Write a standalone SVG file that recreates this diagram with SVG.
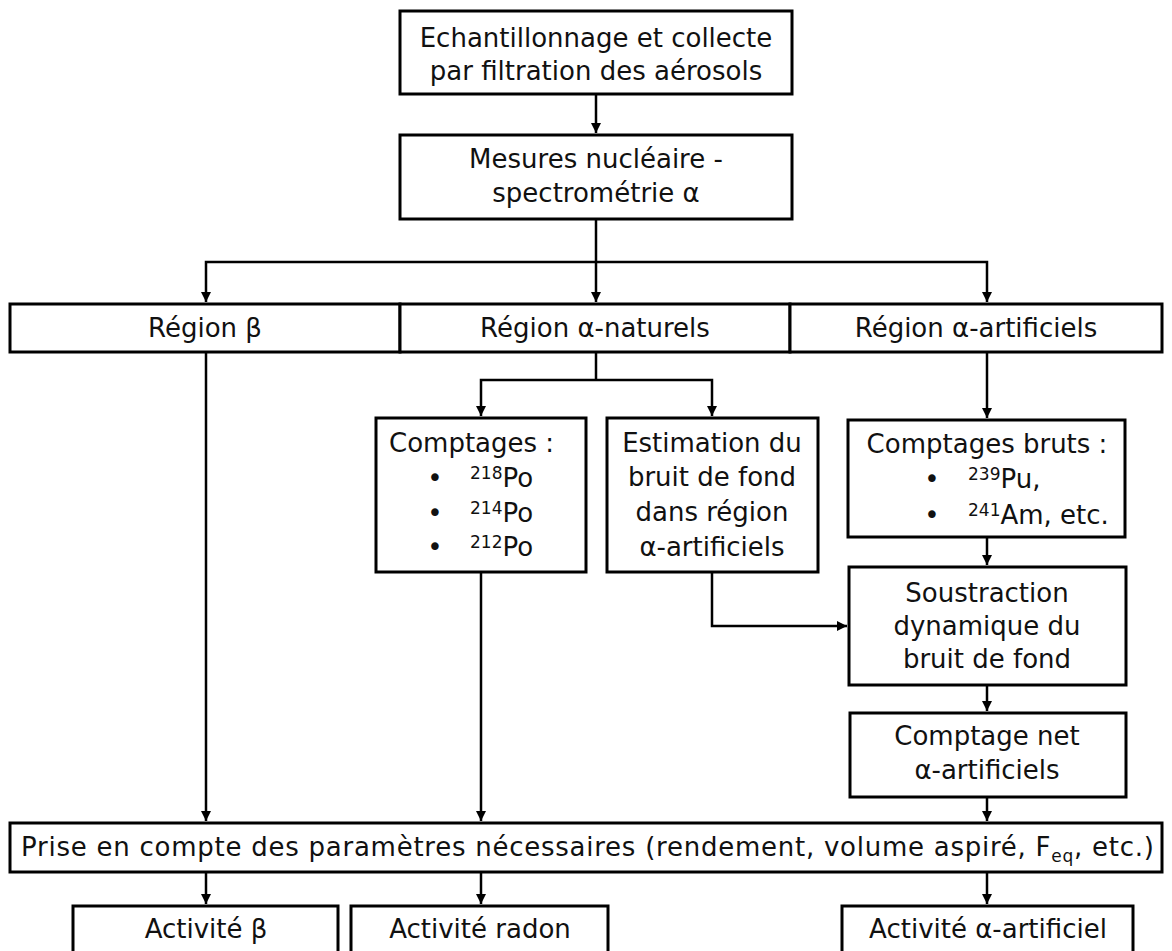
<svg xmlns="http://www.w3.org/2000/svg" width="1172" height="951" viewBox="0 0 1172 951">
<style>
.box{fill:#fff;stroke:#000;stroke-width:3}
.t{font-family:"DejaVu Sans",sans-serif;font-size:26px;fill:#111}
.c{text-anchor:middle}
.sup{font-size:17px}
.con path{fill:none;stroke:#000;stroke-width:2.5}
</style>
<defs>
<marker id="ah" markerUnits="userSpaceOnUse" markerWidth="11" markerHeight="11" refX="10" refY="5" orient="auto">
<path d="M0,0 L10,5 L0,10 z" fill="#000"/>
</marker>
</defs>
<rect width="1172" height="951" fill="#fff"/>
<g class="con">
<path d="M596,94 V133" marker-end="url(#ah)"/>
<path d="M596,219 V302" marker-end="url(#ah)"/>
<path d="M596,262 H206 V302" marker-end="url(#ah)"/>
<path d="M596,262 H987 V302" marker-end="url(#ah)"/>
<path d="M206,352 V821" marker-end="url(#ah)"/>
<path d="M596,352 V380"/>
<path d="M596,380 H481 V416" marker-end="url(#ah)"/>
<path d="M596,380 H712 V416" marker-end="url(#ah)"/>
<path d="M481,572 V821" marker-end="url(#ah)"/>
<path d="M712,572 V626 H847" marker-end="url(#ah)"/>
<path d="M987,352 V418" marker-end="url(#ah)"/>
<path d="M987,537 V565" marker-end="url(#ah)"/>
<path d="M987,685 V711" marker-end="url(#ah)"/>
<path d="M987,797 V821" marker-end="url(#ah)"/>
<path d="M206,872 V904" marker-end="url(#ah)"/>
<path d="M481,872 V904" marker-end="url(#ah)"/>
<path d="M987,872 V904" marker-end="url(#ah)"/>
</g>
<g id="n-echantillonnage">
<rect class="box" x="400" y="11" width="392" height="83"/>
<text class="t c" x="596" y="47">Echantillonnage et collecte</text>
<text class="t c" x="596" y="80">par filtration des aérosols</text>
</g>
<g id="n-mesures">
<rect class="box" x="400" y="135" width="392" height="84"/>
<text class="t c" x="596" y="168">Mesures nucléaire -</text>
<text class="t c" x="596" y="202">spectrométrie α</text>
</g>
<g id="n-region-beta">
<rect class="box" x="10" y="304" width="390" height="48"/>
<text class="t c" x="205" y="337">Région β</text>
</g>
<g id="n-region-naturels">
<rect class="box" x="400" y="304" width="390" height="48"/>
<text class="t c" x="595" y="337">Région α-naturels</text>
</g>
<g id="n-region-artificiels">
<rect class="box" x="790" y="304" width="372" height="48"/>
<text class="t c" x="976" y="337">Région α-artificiels</text>
</g>
<g id="n-comptages">
<rect class="box" x="376" y="418" width="210" height="154"/>
<text class="t" x="389" y="452">Comptages :</text>
<text class="t c" x="435" y="487">•</text>
<text class="t c" x="435" y="522">•</text>
<text class="t c" x="435" y="556">•</text>
<text class="t" x="470" y="487"><tspan class="sup" dy="-8">218</tspan><tspan dy="8">Po</tspan></text>
<text class="t" x="470" y="522"><tspan class="sup" dy="-8">214</tspan><tspan dy="8">Po</tspan></text>
<text class="t" x="470" y="556"><tspan class="sup" dy="-8">212</tspan><tspan dy="8">Po</tspan></text>
</g>
<g id="n-estimation">
<rect class="box" x="607" y="418" width="211" height="154"/>
<text class="t c" x="712" y="452">Estimation du</text>
<text class="t c" x="712" y="486">bruit de fond</text>
<text class="t c" x="712" y="521">dans région</text>
<text class="t c" x="712" y="556">α-artificiels</text>
</g>
<g id="n-bruts">
<rect class="box" x="848" y="420" width="277" height="117"/>
<text class="t c" x="987" y="453">Comptages bruts :</text>
<text class="t c" x="932" y="488">•</text>
<text class="t c" x="932" y="524">•</text>
<text class="t" x="968" y="488"><tspan class="sup" dy="-8">239</tspan><tspan dy="8">Pu,</tspan></text>
<text class="t" x="968" y="524"><tspan class="sup" dy="-8">241</tspan><tspan dy="8">Am, etc.</tspan></text>
</g>
<g id="n-soustraction">
<rect class="box" x="849" y="567" width="277" height="118"/>
<text class="t c" x="987" y="602">Soustraction</text>
<text class="t c" x="987" y="635">dynamique du</text>
<text class="t c" x="987" y="668">bruit de fond</text>
</g>
<g id="n-net">
<rect class="box" x="850" y="713" width="276" height="84"/>
<text class="t c" x="987" y="745">Comptage net</text>
<text class="t c" x="987" y="779">α-artificiels</text>
</g>
<g id="n-prise">
<rect class="box" x="10" y="823" width="1152" height="49"/>
<text class="t" x="21" y="856" textLength="1133" lengthAdjust="spacing">Prise en compte des paramètres nécessaires (rendement, volume aspiré, F<tspan class="sup" dy="6">eq</tspan><tspan dy="-6">, etc.)</tspan></text>
</g>
<g id="n-act-beta">
<rect class="box" x="73" y="906" width="265" height="60"/>
<text class="t c" x="206" y="938">Activité β</text>
</g>
<g id="n-act-radon">
<rect class="box" x="351" y="906" width="257" height="60"/>
<text class="t c" x="480" y="938">Activité radon</text>
</g>
<g id="n-act-alpha">
<rect class="box" x="842" y="906" width="291" height="60"/>
<text class="t c" x="988" y="938">Activité α-artificiel</text>
</g>
</svg>
